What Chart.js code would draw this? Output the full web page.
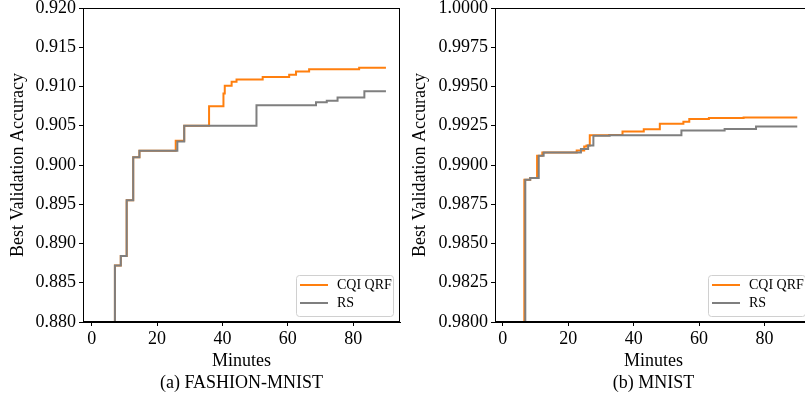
<!DOCTYPE html>
<html>
<head>
<meta charset="utf-8">
<script src="https://cdn.jsdelivr.net/npm/chart.js@4/dist/chart.umd.min.js"></script>
<style>
  html, body { margin: 0; padding: 0; background: #fff; overflow: hidden; }
  body { width: 805px; height: 394px; position: relative; }
  .box { position: absolute; top: 0; height: 394px; }
</style>
</head>
<body>
<div class="box" style="left:0;width:402px"><canvas id="fashion"></canvas></div>
<div class="box" style="left:402px;width:412px"><canvas id="mnist"></canvas></div>
<script>
// --- data (minutes, best validation accuracy) ---
var fashionQrfX = [7.1, 7.1, 8.9, 10.7, 12.7, 14.6, 25.7, 28.3, 35.9, 40.3, 40.7, 42.8, 44.3, 52.3, 60.4, 62.5, 66.5, 81.8, 90];
var fashionQrfY = [0.870, 0.8872, 0.8884, 0.8955, 0.9010, 0.9018, 0.9031, 0.9050, 0.9075, 0.9091, 0.9101, 0.9106, 0.9109, 0.9112, 0.9115, 0.9119, 0.9122, 0.9124, 0.9124];
var fashionRsX = [7.1, 7.1, 8.9, 10.7, 12.7, 14.6, 26.2, 28.3, 50.4, 68.6, 71.9, 75.2, 83.4, 90];
var fashionRsY = [0.870, 0.8872, 0.8884, 0.8955, 0.9010, 0.9018, 0.9030, 0.9050, 0.9076, 0.9080, 0.9082, 0.9086, 0.9094, 0.9094];

var mnistQrfX = [6.6, 6.6, 8.4, 10.5, 12.1, 22.6, 24.9, 25.6, 26.6, 32.5, 36.6, 43.1, 48.0, 55.2, 57.0, 63.0, 73.6, 90];
var mnistQrfY = [0.975, 0.98906, 0.98917, 0.99059, 0.99080, 0.99093, 0.99118, 0.99125, 0.99189, 0.99191, 0.99214, 0.99227, 0.99263, 0.99276, 0.99293, 0.99299, 0.99303, 0.99303];
var mnistRsX = [6.9, 6.9, 8.4, 11.0, 12.5, 23.9, 26.1, 27.7, 32.7, 54.6, 67.8, 77.4, 90];
var mnistRsY = [0.975, 0.98906, 0.98917, 0.99059, 0.99080, 0.99102, 0.99125, 0.99187, 0.99190, 0.99220, 0.99229, 0.99246, 0.99246];

var xTicks = [0, 20, 40, 60, 80];
var fashionYTicks = [0.880, 0.885, 0.890, 0.895, 0.900, 0.905, 0.910, 0.915, 0.920];
var mnistYTicks = [0.9800, 0.9825, 0.9850, 0.9875, 0.9900, 0.9925, 0.9950, 0.9975, 1.0000];

var labels = ['CQI QRF', 'RS'];
var colors = ['#ff7f0e', '#7f7f7f'];
var serif = "'Liberation Serif', 'DejaVu Serif', serif";

function pts(xs, ys) {
    return xs.map(function (x, i) { return { x: x, y: ys[i] }; });
}

// frame round the plot + legend box in the lower right corner
var framePlugin = {
    id: 'frame',
    afterDraw: function (chart) {
        var ctx = chart.ctx, a = chart.chartArea;
        ctx.save();
        ctx.strokeStyle = '#000';
        ctx.lineWidth = 1;
        ctx.strokeRect(Math.round(a.left) + 0.5, Math.round(a.top) + 0.5,
            Math.round(a.right - a.left) - 1, Math.round(a.bottom - a.top) - 1);

        var w = 97, h = 41;
        var bx = a.right - 7 - w, by = a.bottom - 6 - h;
        ctx.fillStyle = 'rgba(255,255,255,0.85)';
        ctx.strokeStyle = '#d0d0d0';
        ctx.beginPath();
        ctx.roundRect(bx + 0.5, by + 0.5, w, h, 3);
        ctx.fill();
        ctx.stroke();

        ctx.font = '14px ' + serif;
        ctx.textBaseline = 'middle';
        chart.data.datasets.forEach(function (ds, i) {
            var yy = by + 10 + i * 18;
            ctx.strokeStyle = ds.borderColor;
            ctx.lineWidth = 2;
            ctx.beginPath();
            ctx.moveTo(bx + 4, yy);
            ctx.lineTo(bx + 32, yy);
            ctx.stroke();
            ctx.fillStyle = '#000';
            ctx.fillText(ds.label, bx + 41, yy);
        });
        ctx.restore();
    }
};

function makeChart(id, qrf, rs, yTicks, digits, xMin, xMax, yAxisWidth, caption) {
    var tickSet = function (list) {
        return function (scale) { scale.ticks = list.map(function (v) { return { value: v }; }); };
    };
    return new Chart(document.getElementById(id), {
        type: 'line',
        data: {
            datasets: [
                { label: labels[0], data: qrf, borderColor: colors[0], backgroundColor: colors[0],
                  borderWidth: 2, pointRadius: 0, stepped: true, fill: false, order: 1 },
                { label: labels[1], data: rs, borderColor: colors[1], backgroundColor: colors[1],
                  borderWidth: 2, pointRadius: 0, stepped: true, fill: false, order: 0 }
            ]
        },
        options: {
            responsive: true,
            maintainAspectRatio: false,
            animation: false,
            events: [],
            layout: { padding: { top: 8, right: 2, left: 0, bottom: 0 } },
            plugins: { legend: { display: false }, tooltip: { enabled: false } },
            scales: {
                x: {
                    type: 'linear', min: xMin, max: xMax,
                    afterBuildTicks: tickSet(xTicks),
                    afterFit: function (s) { s.height = 72; s.paddingLeft = 0; s.paddingRight = 0; },
                    grid: { drawOnChartArea: false, tickLength: 4, color: '#000' },
                    border: { color: '#000' },
                    ticks: { color: '#000', padding: 2, font: { family: serif, size: 18 } },
                    title: { display: true, text: ['Minutes', caption], color: '#000',
                             font: { family: serif, size: 18, lineHeight: 1.22 }, padding: 0 }
                },
                y: {
                    type: 'linear', min: yTicks[0], max: yTicks[yTicks.length - 1],
                    afterBuildTicks: tickSet(yTicks),
                    afterFit: function (s) { s.width = yAxisWidth; s.paddingTop = 0; s.paddingBottom = 0; },
                    grid: { drawOnChartArea: false, tickLength: 4, color: '#000' },
                    border: { color: '#000' },
                    ticks: { color: '#000', padding: 3, font: { family: serif, size: 18 },
                             callback: function (v) { return Number(v).toFixed(digits); } },
                    title: { display: true, text: 'Best Validation Accuracy', color: '#000',
                             font: { family: serif, size: 18 }, padding: { top: 7, bottom: 2 } }
                }
            }
        },
        plugins: [framePlugin]
    });
}

makeChart('fashion', pts(fashionQrfX, fashionQrfY), pts(fashionRsX, fashionRsY),
    fashionYTicks, 3, -2.66, 94.3, 83, '(a) FASHION-MNIST');
makeChart('mnist', pts(mnistQrfX, mnistQrfY), pts(mnistRsX, mnistRsY),
    mnistYTicks, 4, -2.36, 94.5, 93, '(b) MNIST');
</script>
</body>
</html>
